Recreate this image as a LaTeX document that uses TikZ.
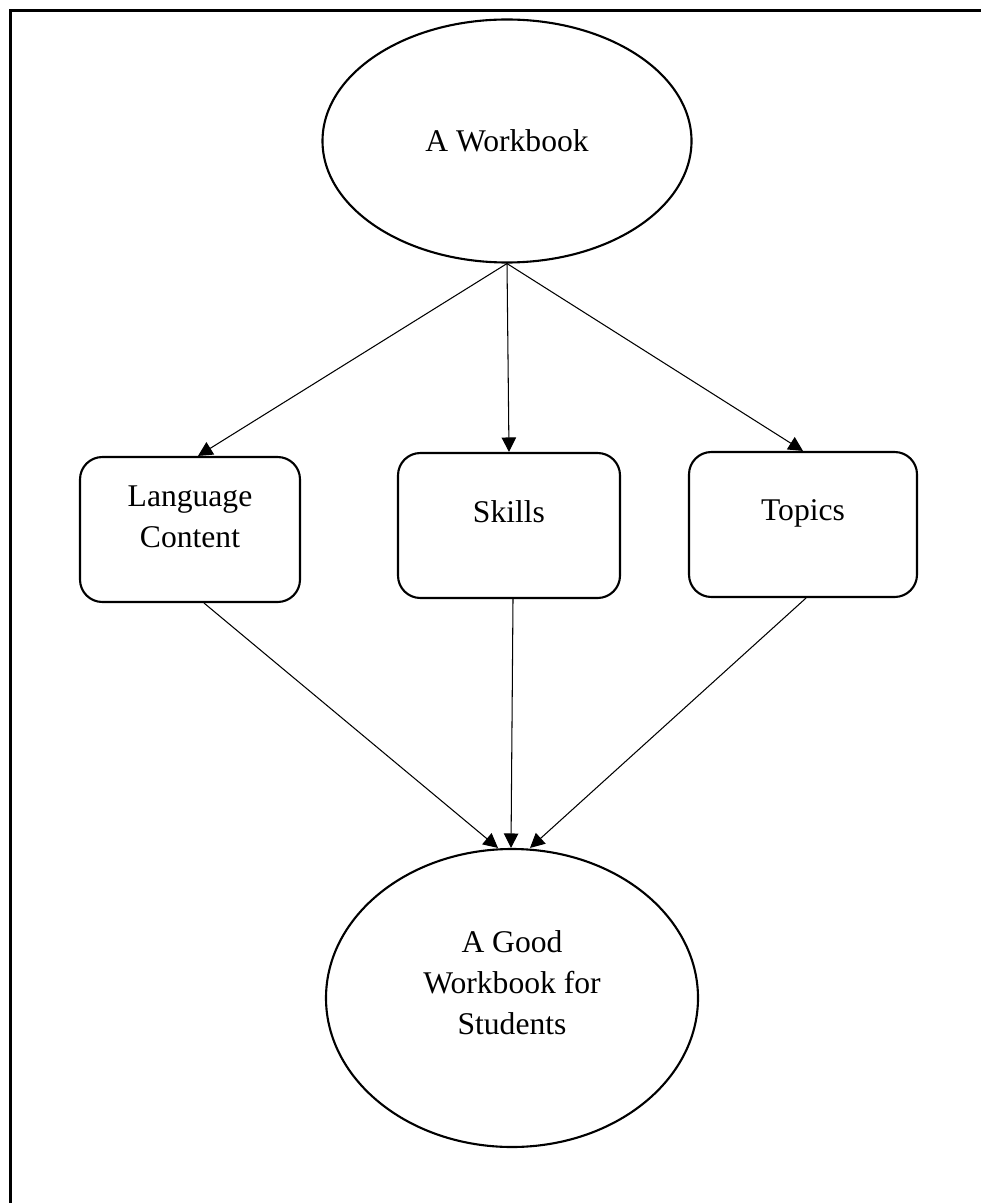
\documentclass[tikz,border=0pt]{standalone}
\usepackage{fontspec}
\setmainfont{Liberation Serif}
\usetikzlibrary{arrows.meta, positioning, shapes.geometric}

\def\px{0.3797pt}

\begin{document}
\begin{tikzpicture}[
  x=\px, y=-\px,
  oval/.style = {ellipse, draw, line width=0.8pt, inner sep=0pt},
  topic/.style = {rectangle, draw, line width=0.8pt, rounded corners=8.5pt, minimum height={145*\px}, inner sep=0pt},
  txt/.style = {align=center, font=\fontsize{12}{15.6}\selectfont},
  arrow/.style = {line width=0.4pt, -{Triangle[length=5.5pt, width=5.5pt]}},
  frame/.style = {line width=0.9pt},
  every node/.style = {font=\fontsize{12}{15.6}\selectfont}
]

% Page size
\useasboundingbox (0,0) rectangle (981,1203);

% Frame (top and left only)
\draw[frame] (981,10.5) -- (10.5,10.5) -- (10.5,1203);

% Shapes
\node[oval, minimum width={369*\px}, minimum height={243*\px}] (book) at (507,141) {};
\node[topic, minimum width={220*\px}] (lang) at (190,529.5) {};
\node[topic, minimum width={222*\px}] (skills) at (509,525.5) {};
\node[topic, minimum width={228*\px}] (topics) at (803,524.5) {};
\node[oval, minimum width={372*\px}, minimum height={298*\px}] (good) at (512,998) {};

% Texts
\node[txt] (booktxt) at (book.center) {A Workbook};
\node[txt] (langtxt) at (190,517) {Language\\Content};
\node[txt] (skillstxt) at (509,512) {Skills};
\node[txt] (topicstxt) at (803,513) {Topics};
\node[txt] (goodtxt) at (512,983) {A Good\\Workbook for\\Students};

% Arrows from the workbook
\draw[arrow] (book.south) -- ([xshift=8*\px]lang.north);
\draw[arrow] (book.south) -- (skills.north);
\draw[arrow] (book.south) -- (topics.north);

% Arrows to the good workbook
\draw[arrow] ([xshift=14*\px]lang.south) -- ([xshift=-14*\px]good.north);
\draw[arrow] ([xshift=4*\px]skills.south) -- ([xshift=-1*\px]good.north);
\draw[arrow] ([xshift=3*\px]topics.south) -- ([xshift=18*\px]good.north);

\end{tikzpicture}
\end{document}
